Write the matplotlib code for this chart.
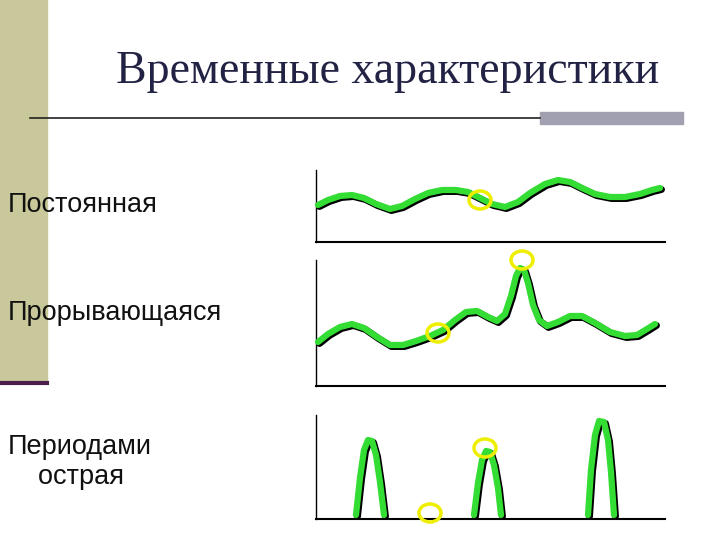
import matplotlib
matplotlib.use("Agg")
import matplotlib.pyplot as plt
from matplotlib.patches import Ellipse, Rectangle

title = "Временные характеристики"
labels = ["Постоянная", "Прорывающаяся", "Периодами\n    острая"]
label_y = [205, 313, 462]

c1_x = [318, 328, 340, 352, 364, 376, 390, 402, 415, 428, 442, 456, 468, 480, 492, 505, 518, 530, 545, 558, 570, 582, 595, 610, 625, 640, 652, 660]
c1_y = [205, 200, 196, 195, 198, 204, 209, 206, 199, 193, 190, 190, 192, 198, 204, 207, 202, 193, 184, 180, 182, 188, 194, 197, 197, 194, 190, 188]
c2_x = [318, 328, 340, 352, 364, 377, 390, 403, 416, 430, 443, 455, 466, 477, 488, 497, 505, 511, 516, 520, 524, 528, 533, 539, 547, 558, 570, 582, 595, 610, 625, 637, 647, 655]
c2_y = [342, 334, 327, 324, 328, 337, 345, 345, 341, 336, 330, 320, 312, 311, 317, 321, 314, 296, 276, 268, 270, 283, 305, 320, 326, 322, 316, 316, 323, 332, 336, 335, 329, 324]
spikes_x = [[356, 360, 364, 368, 372, 376, 380, 384], [474, 478, 482, 486, 490, 494, 498, 501], [588, 591, 595, 599, 604, 608, 611, 614]]
spikes_y = [[515, 478, 450, 440, 441, 455, 482, 515], [515, 483, 460, 451, 452, 465, 488, 515], [515, 470, 435, 421, 422, 440, 472, 515]]
ellipses = [(480, 200), (438, 333), (522, 260), (485, 448), (430, 513)]

fig = plt.figure(figsize=(7.2, 5.4), dpi=100)
ax = fig.add_axes([0, 0, 1, 1])
ax.set_xlim(0, 720); ax.set_ylim(540, 0); ax.axis("off")

ax.add_patch(Rectangle((0, 0), 47, 383, color="#c8c89a", zorder=0))
ax.plot([0, 47], [383, 383], color="#4b1e4b", lw=3)
ax.plot([30, 540], [118, 118], color="#222222", lw=1.2)
ax.add_patch(Rectangle((540, 112), 143, 12, color="#a0a0b0"))
ax.text(388, 72, title, ha="center", va="center", fontsize=33, family="Liberation Serif", color="#222244")

for t, y in zip(labels, label_y):
    ax.text(8, y, t, ha="left", va="center", fontsize=19.5, family="Liberation Sans", color="#111111", linespacing=1.15)

for top, bot in [(170, 242), (260, 386), (415, 519)]:
    ax.plot([316, 316], [top, bot], color="black", lw=1)
    ax.plot([316, 665], [bot, bot], color="black", lw=1.5)

def curve(x, y):
    ax.plot([v + 1.5 for v in x], [v + 1.5 for v in y], color="black", lw=5, solid_capstyle="round", solid_joinstyle="round", zorder=2)
    ax.plot(x, y, color="#33dd33", lw=4.5, solid_capstyle="round", solid_joinstyle="round", zorder=3)

curve(c1_x, c1_y)
curve(c2_x, c2_y)
for sx, sy in zip(spikes_x, spikes_y):
    curve(sx, sy)

for (ex, ey) in ellipses:
    ax.add_patch(Ellipse((ex, ey), 22, 18, fill=False, edgecolor="#eeee00", lw=2.5, zorder=4))

fig.savefig("out.png", dpi=100)
